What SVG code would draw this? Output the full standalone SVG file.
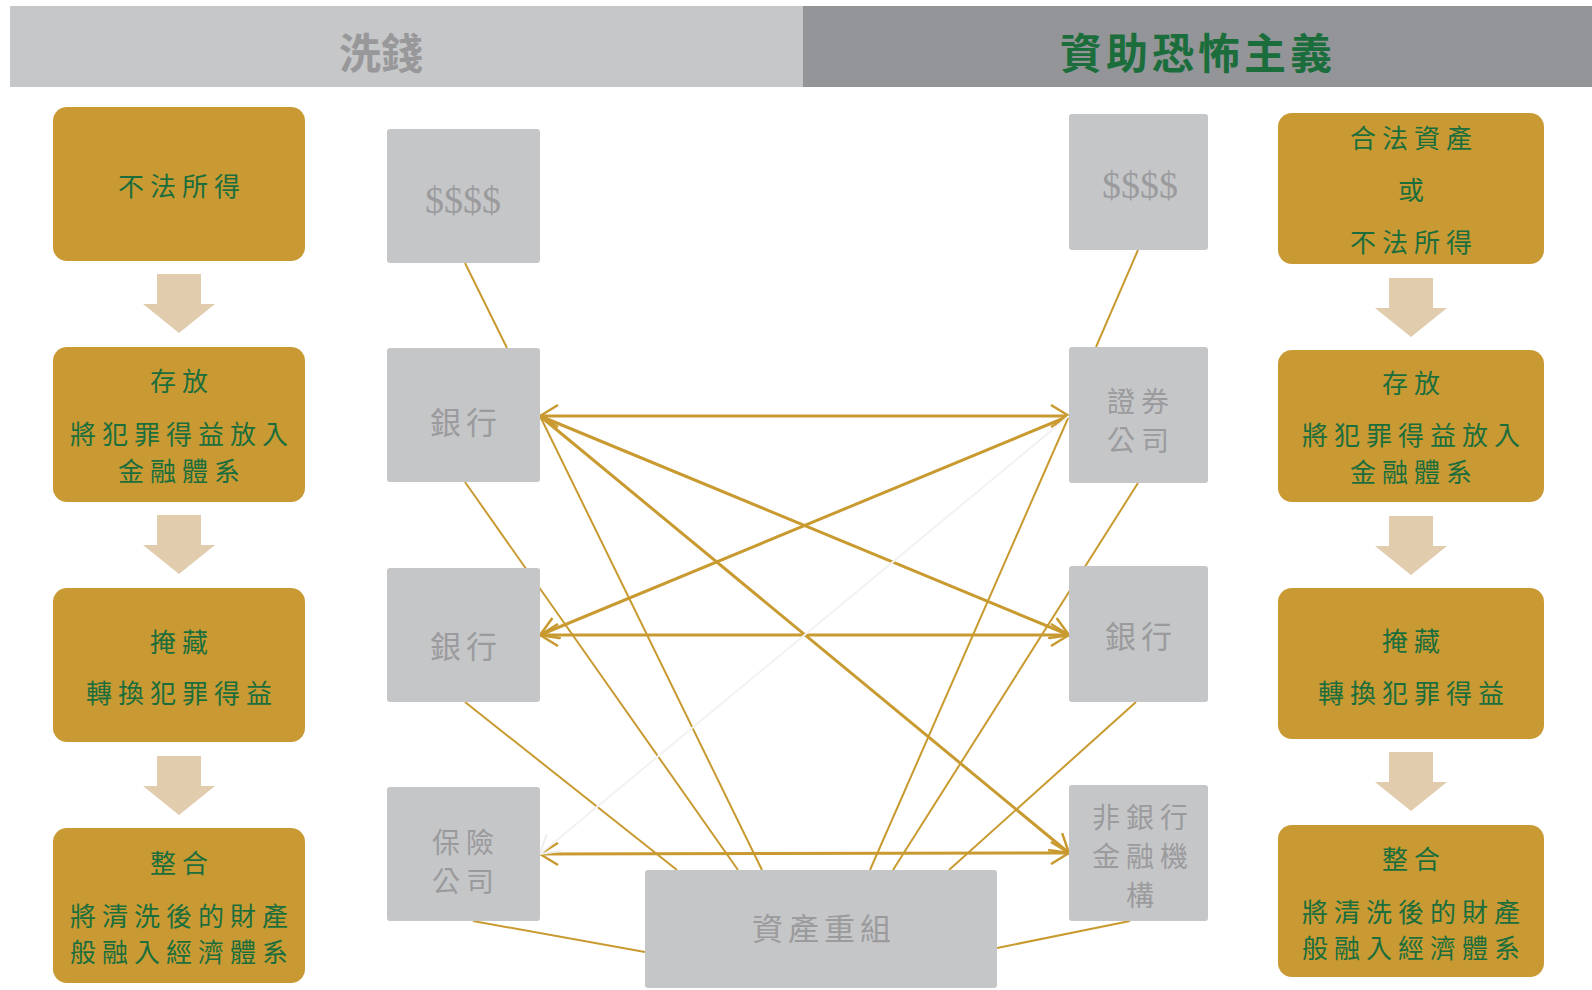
<svg xmlns="http://www.w3.org/2000/svg" width="1592" height="990" viewBox="0 0 1592 990">
<style>
.gold{fill:#c99a33}
.gbox{fill:#c5c6c8}
.gt{font-family:"Noto Sans CJK TC","Noto Sans CJK SC",sans-serif;font-size:26px;fill:#1b6e3c;text-anchor:middle;dominant-baseline:central;letter-spacing:6px}
.bt{font-family:"Noto Sans CJK TC","Noto Sans CJK SC",sans-serif;font-size:31px;fill:#9b9b9d;text-anchor:middle;dominant-baseline:central;letter-spacing:5px}
.bm{font-family:"Noto Sans CJK TC","Noto Sans CJK SC",sans-serif;font-size:28px;fill:#9b9b9d;text-anchor:middle;dominant-baseline:central;letter-spacing:6px}
.dl{font-family:"Liberation Serif",serif;font-size:38px;fill:#9b9b9d;text-anchor:middle;dominant-baseline:central}
.ln{stroke:#c89a30;stroke-width:2;fill:none}
.ar{stroke:#c89a30;stroke-width:3;fill:none}
.fa{stroke:#f2f2f2;stroke-width:2;fill:none}
.beige{fill:#e2ccae}
</style>
<defs>
<marker id="ah" viewBox="0 0 20 24" refX="19" refY="12" markerWidth="20" markerHeight="24" markerUnits="userSpaceOnUse" orient="auto-start-reverse">
<path d="M1,1 L19,12 L1,23" fill="none" stroke="#c89a30" stroke-width="2.5"/>
</marker>
<marker id="af" viewBox="0 0 20 24" refX="19" refY="12" markerWidth="20" markerHeight="24" markerUnits="userSpaceOnUse" orient="auto-start-reverse">
<path d="M1,1 L19,12 L1,23" fill="none" stroke="#eeeeee" stroke-width="2"/>
</marker>
<path id="down" d="M-22,0 H22 V30 H36 L0,59 L-36,30 H-22 Z"/>
</defs>

<g id="header">
<rect x="10" y="6" width="793" height="81" fill="#c6c7c9"/>
<rect x="803" y="6" width="789" height="81" fill="#939598"/>
<text x="381" y="50" font-family="'Noto Sans CJK TC',sans-serif" font-size="42" font-weight="bold" fill="#98989a" text-anchor="middle" dominant-baseline="central">洗錢</text>
<text x="1198" y="50" font-family="'Noto Sans CJK TC',sans-serif" font-size="42" font-weight="bold" fill="#1b6e3c" text-anchor="middle" dominant-baseline="central" letter-spacing="4">資助恐怖主義</text>
</g>

<g id="connectors">
<line class="ln" x1="465" y1="263" x2="507" y2="348"/>
<line class="ln" x1="1138" y1="250" x2="1096" y2="347"/>
<line class="ln" x1="465" y1="482" x2="738" y2="870"/>
<line class="ln" x1="540" y1="416" x2="762" y2="870"/>
<line class="ln" x1="465" y1="702" x2="677" y2="870"/>
<line class="ln" x1="1069" y1="416" x2="870" y2="870"/>
<line class="ln" x1="1138" y1="483" x2="893" y2="870"/>
<line class="ln" x1="1136" y1="702" x2="949" y2="870"/>
<line class="ln" x1="473" y1="921" x2="645" y2="952"/>
<line class="ln" x1="997" y1="948" x2="1130" y2="921"/>
<line class="ar" x1="540" y1="416" x2="1069" y2="416" marker-start="url(#ah)" marker-end="url(#ah)"/>
<line class="ar" x1="540" y1="635" x2="1069" y2="635" marker-start="url(#ah)" marker-end="url(#ah)"/>
<line class="ar" x1="540" y1="854" x2="1069" y2="853" marker-start="url(#ah)" marker-end="url(#ah)"/>
<line class="ar" x1="540" y1="416" x2="1069" y2="635" marker-end="url(#ah)"/>
<line class="ar" x1="1069" y1="416" x2="540" y2="635" marker-end="url(#ah)"/>
<line class="ar" x1="540" y1="416" x2="1069" y2="853" marker-end="url(#ah)"/>
<line class="fa" x1="1069" y1="416" x2="540" y2="854" marker-end="url(#af)"/>
</g>

<g id="flow-arrows">
<use href="#down" class="beige" x="179" y="274"/>
<use href="#down" class="beige" x="179" y="515"/>
<use href="#down" class="beige" x="179" y="756"/>
<use href="#down" class="beige" x="1411" y="278"/>
<use href="#down" class="beige" x="1411" y="516"/>
<use href="#down" class="beige" x="1411" y="752"/>
</g>

<g id="L1"><rect class="gold" x="53" y="107" width="252" height="154" rx="14"/>
<text class="gt" x="182" y="184">不法所得</text></g>
<g id="L2"><rect class="gold" x="53" y="347" width="252" height="155" rx="14"/>
<text class="gt" x="182" y="379">存放</text>
<text class="gt"><tspan x="182" y="432">將犯罪得益放入</tspan><tspan x="182" y="469">金融體系</tspan></text></g>
<g id="L3"><rect class="gold" x="53" y="588" width="252" height="154" rx="14"/>
<text class="gt" x="182" y="640">掩藏</text>
<text class="gt" x="182" y="691">轉換犯罪得益</text></g>
<g id="L4"><rect class="gold" x="53" y="828" width="252" height="155" rx="14"/>
<text class="gt" x="182" y="861">整合</text>
<text class="gt"><tspan x="182" y="914">將清洗後的財產</tspan><tspan x="182" y="950">般融入經濟體系</tspan></text></g>

<g id="R1"><rect class="gold" x="1278" y="113" width="266" height="151" rx="14"/>
<text class="gt" x="1414" y="136">合法資產</text>
<text class="gt" x="1414" y="188">或</text>
<text class="gt" x="1414" y="240">不法所得</text></g>
<g id="R2"><rect class="gold" x="1278" y="350" width="266" height="152" rx="14"/>
<text class="gt" x="1414" y="381">存放</text>
<text class="gt"><tspan x="1414" y="433">將犯罪得益放入</tspan><tspan x="1414" y="470">金融體系</tspan></text></g>
<g id="R3"><rect class="gold" x="1278" y="588" width="266" height="151" rx="14"/>
<text class="gt" x="1414" y="639">掩藏</text>
<text class="gt" x="1414" y="691">轉換犯罪得益</text></g>
<g id="R4"><rect class="gold" x="1278" y="825" width="266" height="152" rx="14"/>
<text class="gt" x="1414" y="857">整合</text>
<text class="gt"><tspan x="1414" y="910">將清洗後的財產</tspan><tspan x="1414" y="946">般融入經濟體系</tspan></text></g>

<g id="LM1"><rect class="gbox" x="387" y="129" width="153" height="134" rx="3"/>
<text class="dl" x="463" y="200">$$$$</text></g>
<g id="LM2"><rect class="gbox" x="387" y="348" width="153" height="134" rx="3"/>
<text class="bt" x="466" y="420">銀行</text></g>
<g id="LM3"><rect class="gbox" x="387" y="568" width="153" height="134" rx="3"/>
<text class="bt" x="466" y="644">銀行</text></g>
<g id="LM4"><rect class="gbox" x="387" y="787" width="153" height="134" rx="3"/>
<text class="bm"><tspan x="466" y="841">保險</tspan><tspan x="466" y="880">公司</tspan></text></g>

<g id="RM1"><rect class="gbox" x="1069" y="114" width="139" height="136" rx="3"/>
<text class="dl" x="1140" y="185">$$$$</text></g>
<g id="RM2"><rect class="gbox" x="1069" y="347" width="139" height="136" rx="3"/>
<text class="bm"><tspan x="1141" y="400">證券</tspan><tspan x="1141" y="439">公司</tspan></text></g>
<g id="RM3"><rect class="gbox" x="1069" y="566" width="139" height="136" rx="3"/>
<text class="bt" x="1141" y="634">銀行</text></g>
<g id="RM4"><rect class="gbox" x="1069" y="785" width="139" height="136" rx="3"/>
<text class="bm"><tspan x="1143" y="816">非銀行</tspan><tspan x="1143" y="855">金融機</tspan><tspan x="1143" y="894">構</tspan></text></g>

<g id="B"><rect class="gbox" x="645" y="870" width="352" height="118" rx="3"/>
<text class="bt" x="824" y="926">資產重組</text></g>
</svg>
